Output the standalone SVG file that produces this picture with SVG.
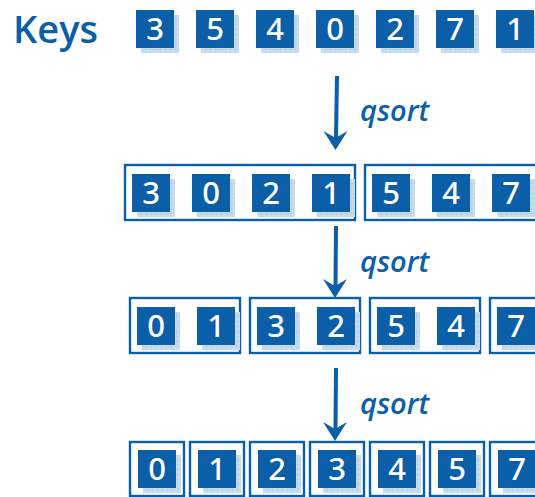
<svg xmlns="http://www.w3.org/2000/svg" xmlns:xlink="http://www.w3.org/1999/xlink" width="535" height="497" viewBox="0 0 535 497">
  <defs>
    <style>
      .key { fill: #0b5ea8; }
      .shadow { fill: url(#grid); }
      .digit { fill: #ffffff; font-family: "Noto Sans", "Open Sans", sans-serif; font-size: 31px; font-weight: 500; text-anchor: middle; }
      .frame { fill: #ffffff; stroke: #0b5ea8; stroke-width: 2.4; }
      .title { fill: #0b5ea8; font-family: "Open Sans", "Noto Sans", sans-serif; font-size: 38px; font-weight: 600; }
      .label { fill: #0b5ea8; font-family: "Open Sans", "Noto Sans", sans-serif; font-size: 29px; font-style: italic; font-weight: 600; }
      .shaft { stroke: #0b5ea8; stroke-width: 4; fill: none; }
      .head { fill: #0b5ea8; }
    </style>
    <pattern id="grid" width="5" height="5" patternUnits="userSpaceOnUse">
      <rect width="5" height="5" fill="#c6dcef"/>
      <path d="M5 0 V5 M0 5 H5" stroke="#a8c8e4" stroke-width="0.8"/>
    </pattern>
    <!-- key cell: shadow, square, anchored at top-left -->
    <g id="cell">
      <rect class="shadow" x="5" y="5" width="38" height="38"/>
      <rect class="key" x="0" y="0" width="38" height="38"/>
    </g>
    <path id="arrowhead" d="M0 0 L-12 -19 L0 -12 L12 -19 Z"/>
  </defs>

  <g id="title">
    <text class="title" x="13" y="43">Keys</text>
  </g>

  <!-- row 1: unsorted keys -->
  <g id="row1">
    <g id="r1-3"><use xlink:href="#cell" x="136" y="10"/><text class="digit" x="155" y="40">3</text></g>
    <g id="r1-5"><use xlink:href="#cell" x="196" y="10"/><text class="digit" x="215" y="40">5</text></g>
    <g id="r1-4"><use xlink:href="#cell" x="256" y="10"/><text class="digit" x="275" y="40">4</text></g>
    <g id="r1-0"><use xlink:href="#cell" x="316" y="10"/><text class="digit" x="335" y="40">0</text></g>
    <g id="r1-2"><use xlink:href="#cell" x="376" y="10"/><text class="digit" x="395" y="40">2</text></g>
    <g id="r1-7"><use xlink:href="#cell" x="436" y="10"/><text class="digit" x="455" y="40">7</text></g>
    <g id="r1-1"><use xlink:href="#cell" x="496" y="10"/><text class="digit" x="515" y="40">1</text></g>
  </g>

  <!-- row 2: first partition -->
  <g id="row2">
    <rect class="frame" x="125" y="165" width="230" height="55"/>
    <rect class="frame" x="365" y="165" width="180" height="55"/>
    <g id="r2-3"><use xlink:href="#cell" x="132" y="174"/><text class="digit" x="151" y="204">3</text></g>
    <g id="r2-0"><use xlink:href="#cell" x="192" y="174"/><text class="digit" x="211" y="204">0</text></g>
    <g id="r2-2"><use xlink:href="#cell" x="252" y="174"/><text class="digit" x="271" y="204">2</text></g>
    <g id="r2-1"><use xlink:href="#cell" x="312" y="174"/><text class="digit" x="331" y="204">1</text></g>
    <g id="r2-5"><use xlink:href="#cell" x="372" y="174"/><text class="digit" x="391" y="204">5</text></g>
    <g id="r2-4"><use xlink:href="#cell" x="432" y="174"/><text class="digit" x="451" y="204">4</text></g>
    <g id="r2-7"><use xlink:href="#cell" x="492" y="174"/><text class="digit" x="511" y="204">7</text></g>
  </g>

  <!-- row 3: second partition -->
  <g id="row3">
    <rect class="frame" x="130" y="298" width="110" height="55"/>
    <rect class="frame" x="250" y="298" width="110" height="55"/>
    <rect class="frame" x="370" y="298" width="110" height="55"/>
    <rect class="frame" x="490" y="298" width="60" height="55"/>
    <g id="r3-0"><use xlink:href="#cell" x="137" y="307"/><text class="digit" x="156" y="337">0</text></g>
    <g id="r3-1"><use xlink:href="#cell" x="197" y="307"/><text class="digit" x="216" y="337">1</text></g>
    <g id="r3-3"><use xlink:href="#cell" x="257" y="307"/><text class="digit" x="276" y="337">3</text></g>
    <g id="r3-2"><use xlink:href="#cell" x="317" y="307"/><text class="digit" x="336" y="337">2</text></g>
    <g id="r3-5"><use xlink:href="#cell" x="377" y="307"/><text class="digit" x="396" y="337">5</text></g>
    <g id="r3-4"><use xlink:href="#cell" x="437" y="307"/><text class="digit" x="456" y="337">4</text></g>
    <g id="r3-7"><use xlink:href="#cell" x="497" y="307"/><text class="digit" x="516" y="337">7</text></g>
  </g>

  <!-- row 4: sorted keys -->
  <g id="row4">
    <rect class="frame" x="130" y="442" width="54" height="54"/>
    <rect class="frame" x="190" y="442" width="54" height="54"/>
    <rect class="frame" x="250" y="442" width="54" height="54"/>
    <rect class="frame" x="310" y="442" width="54" height="54"/>
    <rect class="frame" x="370" y="442" width="54" height="54"/>
    <rect class="frame" x="430" y="442" width="54" height="54"/>
    <rect class="frame" x="490" y="442" width="54" height="54"/>
    <g id="r4-0"><use xlink:href="#cell" x="138" y="450"/><text class="digit" x="157" y="480">0</text></g>
    <g id="r4-1"><use xlink:href="#cell" x="198" y="450"/><text class="digit" x="217" y="480">1</text></g>
    <g id="r4-2"><use xlink:href="#cell" x="258" y="450"/><text class="digit" x="277" y="480">2</text></g>
    <g id="r4-3"><use xlink:href="#cell" x="318" y="450"/><text class="digit" x="337" y="480">3</text></g>
    <g id="r4-4"><use xlink:href="#cell" x="378" y="450"/><text class="digit" x="397" y="480">4</text></g>
    <g id="r4-5"><use xlink:href="#cell" x="438" y="450"/><text class="digit" x="457" y="480">5</text></g>
    <g id="r4-7"><use xlink:href="#cell" x="498" y="450"/><text class="digit" x="517" y="480">7</text></g>
  </g>

  <!-- qsort steps -->
  <g id="connectors">
    <line class="shaft" x1="337" y1="76" x2="336" y2="138"/>
    <use xlink:href="#arrowhead" class="head" x="335.5" y="150"/>
    <line class="shaft" x1="336" y1="226" x2="335.5" y2="287"/>
    <use xlink:href="#arrowhead" class="head" x="335" y="298"/>
    <line class="shaft" x1="336" y1="368" x2="335.5" y2="430"/>
    <use xlink:href="#arrowhead" class="head" x="335" y="441"/>
  </g>

  <g id="labels">
    <text class="label" x="360" y="121">qsort</text>
    <text class="label" x="360" y="272">qsort</text>
    <text class="label" x="360" y="414">qsort</text>
  </g>
</svg>
